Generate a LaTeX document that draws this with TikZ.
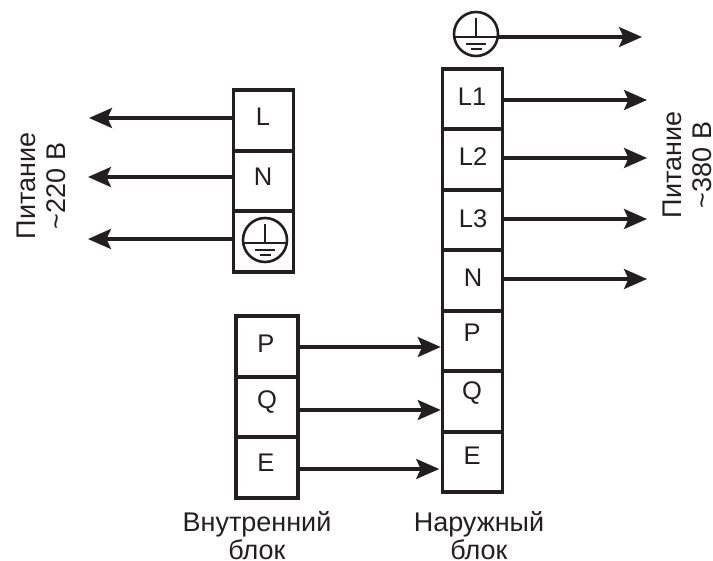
\documentclass[tikz,border=0pt]{standalone}
\usepackage{fontspec}
\setmainfont{Liberation Sans}
\usetikzlibrary{arrows.meta}
\definecolor{ink}{HTML}{231F20}
\tikzset{
  x=1bp,y=-1bp,
  every node/.style={text=ink,font=\fontsize{25.5bp}{27bp}\selectfont,inner sep=0pt},
  cell/.style={draw=ink,line width=3.6bp,minimum width=60bp,minimum height=60.5bp},
  wire/.style={draw=ink,line width=3.2bp,-{Stealth[length=23bp,width=20bp,inset=4.5bp]}},
  caption/.style={align=center,font=\fontsize{27bp}{30bp}\selectfont},
  undercaption/.style={align=center,font=\fontsize{27bp}{27.5bp}\selectfont},
  earth/.style={draw=ink,line width=2.6bp},
  earthsmall/.style={draw=ink,line width=2bp},
  earthnode/.style={circle,minimum size=44bp}
}
\newcommand{\earthsym}[1]{%
  \begin{scope}[shift={(#1.center)}]
  \draw[earth] (0,0) circle (22bp);
  \draw[earth] (-22,3) -- (22,3);
  \draw[earth] (0,-16) -- (0,3);
  \draw[earthsmall] (-10,10) -- (10,10);
  \draw[earthsmall] (-5.5,15) -- (5.5,15);
  \end{scope}
}
\begin{document}
\begin{tikzpicture}
\useasboundingbox (0,0) rectangle (713,561);
% left block
\node[cell] (cL) at (263.5,120.5) {};
\node[cell] (cN) at (263.5,181) {};
\node[cell] (cG) at (263.5,241.5) {};
\node (tL) at (263,117) {L};
\node (tN) at (263,177) {N};
\node[earthnode] (gL) at (265,240) {};
\earthsym{gL}
% inner block
\node[cell,minimum width=62bp] (iP) at (267,346.5) {};
\node[cell,minimum width=62bp] (iQ) at (267,407) {};
\node[cell,minimum width=62bp] (iE) at (267,467.5) {};
\node (tiP) at (266,344) {P};
\node (tiQ) at (267,402) {Q};
\node (tiE) at (266,463) {E};
% outer block
\node[cell] (oL1) at (472.5,99) {};
\node[cell] (oL2) at (472.5,159.5) {};
\node[cell] (oL3) at (472.5,220) {};
\node[cell] (oN) at (472.5,280.5) {};
\node[cell] (oP) at (472.5,341) {};
\node[cell] (oQ) at (472.5,401.5) {};
\node[cell] (oE) at (472.5,462) {};
\node (toL1) at (472,97) {L1};
\node (toL2) at (473,157) {L2};
\node (toL3) at (473,219) {L3};
\node (toN) at (473,278) {N};
\node (toP) at (472,333) {P};
\node (toQ) at (472,393) {Q};
\node (toE) at (472,456) {E};
\node[earthnode] (gT) at (476,34) {};
\earthsym{gT}
% free ends
\coordinate (aL) at (89,118);
\coordinate (aN) at (88,177);
\coordinate (aG) at (88,239);
\coordinate (bG) at (642,37);
\coordinate (bL1) at (647,100);
\coordinate (bL2) at (647,158);
\coordinate (bL3) at (647,219);
\coordinate (bN) at (647,279);
% connectors
\draw[wire] (cL.west |- aL) -- (aL);
\draw[wire] (cN.west |- aN) -- (aN);
\draw[wire] (cG.west |- aG) -- (aG);
\draw[wire] (gT.east |- bG) -- (bG);
\draw[wire] (oL1.east |- bL1) -- (bL1);
\draw[wire] (oL2.east |- bL2) -- (bL2);
\draw[wire] (oL3.east |- bL3) -- (bL3);
\draw[wire] (oN.east |- bN) -- (bN);
\draw[wire] (iP.east |- 0,347) -- (oP.west |- 0,347);
\draw[wire] (iQ.east |- 0,410) -- (oQ.west |- 0,410);
\draw[wire] (iE.east |- 0,469) -- ([xshift=-1.5bp]oE.west |- 0,469);
% captions
\node[caption,rotate=90] (c220) at (41,186) {Питание\\\textasciitilde220 В};
\node[caption,rotate=90] (c380) at (687,165) {Питание\\\textasciitilde380 В};
\node[undercaption] (cin) at (257,535.5) {Внутренний\\блок};
\node[undercaption] (cout) at (479,535.5) {Наружный\\блок};
\end{tikzpicture}
\end{document}
